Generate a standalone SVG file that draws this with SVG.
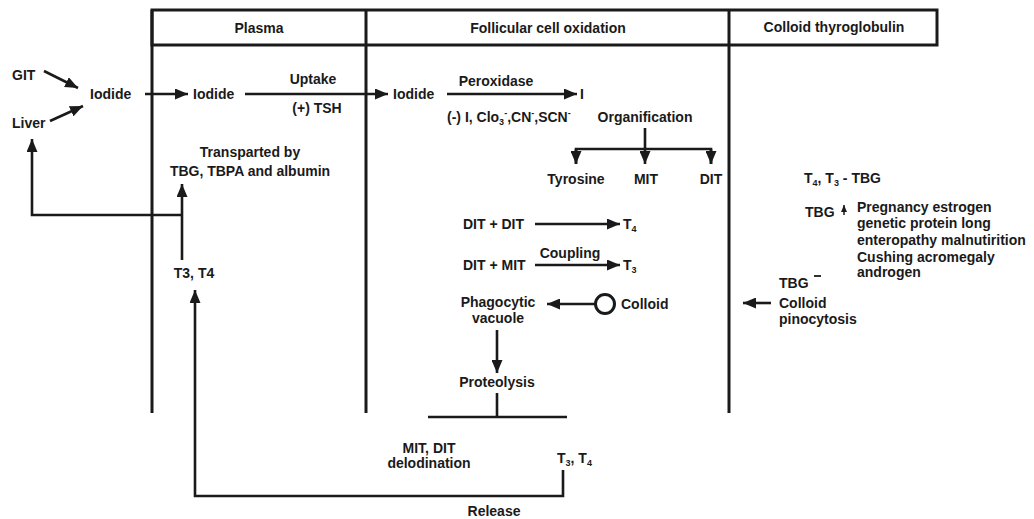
<svg xmlns="http://www.w3.org/2000/svg" width="1034" height="519" viewBox="0 0 1034 519">
<style>
text{font-family:"Liberation Sans",Arial,sans-serif;font-weight:bold;font-size:14px;fill:#1a1a1a}
.c{text-anchor:middle}
.s{font-size:9px}
.ln{stroke:#1a1a1a;stroke-width:3;fill:none}
.ar{stroke:#1a1a1a;stroke-width:2.6;fill:none;marker-end:url(#ah)}
</style>
<defs>
<marker id="ah" markerUnits="userSpaceOnUse" markerWidth="13" markerHeight="11" refX="13" refY="5.5" orient="auto">
<path d="M0,0 L13,5.5 L0,11 z" fill="#1a1a1a"/>
</marker>
<marker id="ahs" markerUnits="userSpaceOnUse" markerWidth="7" markerHeight="6" refX="7" refY="3" orient="auto">
<path d="M0,0 L7,3 L0,6 z" fill="#1a1a1a"/>
</marker>
</defs>
<g id="frame">
<rect x="152" y="10" width="785" height="35" class="ln"/>
<line x1="152" y1="10" x2="152" y2="413" class="ln"/>
<line x1="366" y1="10" x2="366" y2="413" class="ln"/>
<line x1="729" y1="10" x2="729" y2="413" class="ln"/>
<text x="259" y="33" class="c">Plasma</text>
<text x="548" y="33" class="c">Follicular cell oxidation</text>
<text x="834" y="32" class="c">Colloid thyroglobulin</text>
</g>
<g id="connectors">
<line x1="44" y1="71" x2="78" y2="88" class="ar"/>
<line x1="50" y1="121" x2="83" y2="106" class="ar"/>
<line x1="145" y1="94" x2="188" y2="94" class="ar"/>
<line x1="245" y1="94" x2="388" y2="94" class="ar"/>
<line x1="447" y1="94" x2="577" y2="94" class="ar"/>
<line x1="645" y1="128" x2="645" y2="164" class="ar"/>
<polyline points="576,164 576,149 711,149 711,164" class="ln" style="stroke-width:2.6"/>
<line x1="576" y1="149" x2="576" y2="164" class="ar"/>
<line x1="711" y1="149" x2="711" y2="164" class="ar"/>
<line x1="182" y1="260" x2="182" y2="184" class="ar"/>
<polyline points="182,215 32,215 32,139" class="ar"/>
<polyline points="563,470 563,496 195,496 195,290" class="ar"/>
<line x1="535" y1="224" x2="620" y2="224" class="ar"/>
<line x1="535" y1="265" x2="620" y2="265" class="ar"/>
<line x1="595" y1="304" x2="547" y2="304" class="ar"/>
<line x1="497" y1="330" x2="497" y2="373" class="ar"/>
<line x1="497" y1="393" x2="497" y2="417" class="ln" style="stroke-width:2.6"/>
<line x1="428" y1="417" x2="567" y2="417" class="ln" style="stroke-width:2.6"/>
<line x1="771" y1="303" x2="743" y2="303" class="ar"/>
<line x1="844" y1="215" x2="844" y2="205" stroke="#1a1a1a" stroke-width="1.5" marker-end="url(#ahs)"/>
</g>
<g id="n-git"><text x="12" y="80">GIT</text></g>
<g id="n-liver"><text x="12" y="128">Liver</text></g>
<g id="n-iodide1"><text x="90" y="99">Iodide</text></g>
<g id="n-iodide2"><text x="193" y="99">Iodide</text></g>
<g id="n-uptake"><text x="313" y="84" class="c">Uptake</text><text x="317" y="113" class="c">(+) TSH</text></g>
<g id="n-iodide3"><text x="393" y="99">Iodide</text></g>
<g id="n-peroxidase"><text x="496" y="86" class="c">Peroxidase</text>
<text x="447" y="122">(-) I, Clo<tspan class="s" dy="3">3</tspan><tspan class="s" dy="-9">-</tspan><tspan dy="6">,CN</tspan><tspan class="s" dy="-6">-</tspan><tspan dy="6">,SCN</tspan><tspan class="s" dy="-6">-</tspan></text></g>
<g id="n-i"><text x="580" y="99">I</text></g>
<g id="n-organification"><text x="645" y="122" class="c">Organification</text></g>
<g id="n-tyrosine"><text x="576" y="184" class="c">Tyrosine</text></g>
<g id="n-mit"><text x="646" y="184" class="c">MIT</text></g>
<g id="n-dit"><text x="711" y="184" class="c">DIT</text></g>
<g id="n-transport"><text x="250" y="157" class="c">Transparted by</text><text x="250" y="176" class="c">TBG, TBPA and albumin</text></g>
<g id="n-t3t4a"><text x="194" y="278" class="c">T3, T4</text></g>
<g id="n-ditdit"><text x="463" y="229">DIT + DIT</text><text x="623" y="229">T<tspan class="s" dy="3">4</tspan></text></g>
<g id="n-ditmit"><text x="463" y="270">DIT + MIT</text><text x="570" y="258" class="c">Coupling</text><text x="623" y="270">T<tspan class="s" dy="3">3</tspan></text></g>
<g id="n-phago"><text x="498" y="307" class="c">Phagocytic</text><text x="498" y="323" class="c">vacuole</text></g>
<g id="n-colloid"><circle cx="605" cy="304" r="9.5" fill="none" stroke="#1a1a1a" stroke-width="3"/><text x="621" y="309">Colloid</text></g>
<g id="n-proteolysis"><text x="497" y="387" class="c">Proteolysis</text></g>
<g id="n-deiod"><text x="429" y="453" class="c">MIT, DIT</text><text x="429" y="468" class="c">delodination</text></g>
<g id="n-t3t4b"><text x="557" y="463">T<tspan class="s" dy="3">3</tspan><tspan dy="-3">, T</tspan><tspan class="s" dy="3">4</tspan></text></g>
<g id="n-release"><text x="494" y="516" class="c">Release</text></g>
<g id="n-tbgcomplex"><text x="804" y="183">T<tspan class="s" dy="3">4</tspan><tspan dy="-3">, T</tspan><tspan class="s" dy="3">3</tspan><tspan dy="-3"> - TBG</tspan></text></g>
<g id="n-tbgup"><text x="805" y="217">TBG</text>
<text x="857" y="212">Pregnancy estrogen</text>
<text x="857" y="228">genetic protein long</text>
<text x="857" y="245">enteropathy malnutirition</text>
<text x="857" y="262">Cushing acromegaly</text>
<text x="857" y="277">androgen</text></g>
<g id="n-tbgdown"><text x="779" y="288">TBG</text><line x1="814" y1="276" x2="821" y2="276" stroke="#1a1a1a" stroke-width="1.8"/>
<text x="779" y="308">Colloid</text><text x="779" y="324">pinocytosis</text></g>
</svg>
